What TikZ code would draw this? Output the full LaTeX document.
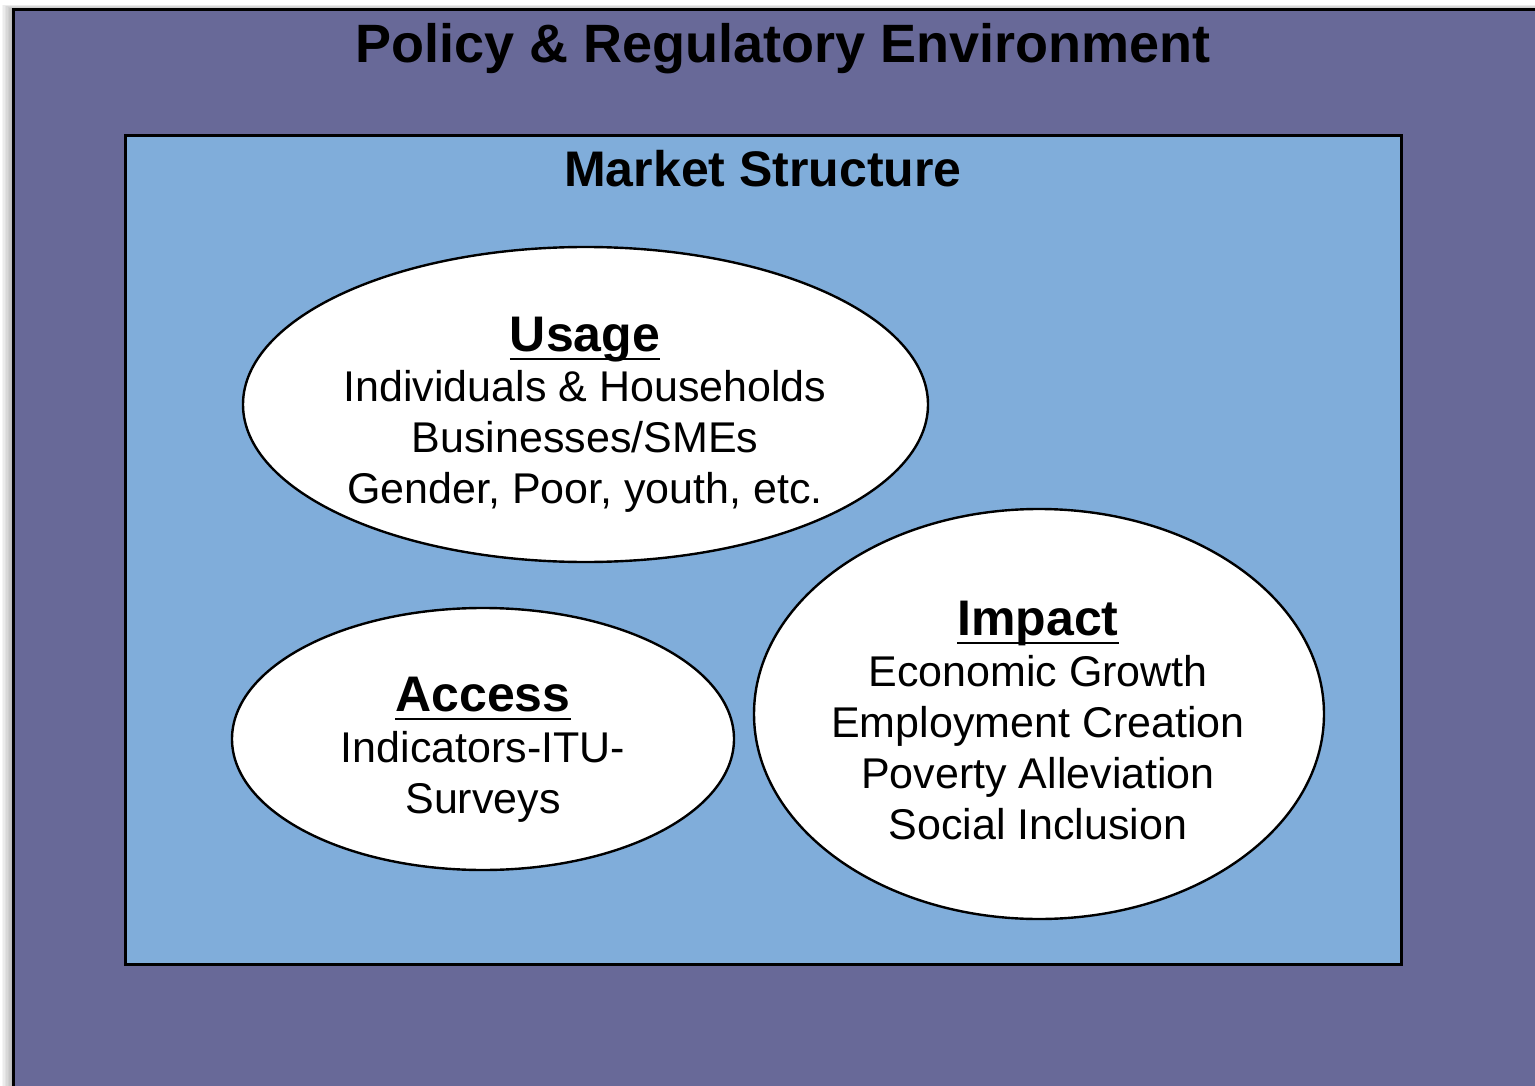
\documentclass[tikz,border=0pt]{standalone}
\usepackage{fontspec}
\setmainfont{Liberation Sans}
\usetikzlibrary{shapes.geometric}
\definecolor{policy}{RGB}{104,105,152}
\definecolor{market}{RGB}{128,173,218}
\begin{document}
\begin{tikzpicture}[x=1pt,y=-1pt,
  ell/.style={draw=black, line width=2.4pt, fill=white, ellipse, inner sep=0pt},
  txt/.style={anchor=base, inner sep=0pt, font=\fontsize{43}{51}\selectfont},
  head/.style={anchor=base, inner sep=0pt, font=\fontsize{50}{60}\selectfont\bfseries},
  uline/.style={line width=2.6pt}]
\useasboundingbox (0,0) rectangle (1535,1086);
\fill[white] (0,0) rectangle (1535,1086);
% soft shadow
\foreach \i in {1,...,8}{
  \fill[black, opacity=0.04] (13.5-1.5*\i,9.5-0.6*\i) rectangle (1535,1086);
}
% outer environment
\fill[policy] (13.5,9.5) rectangle (1540,1092);
\draw[line width=3pt] (1540,9.5) -- (13.5,9.5) -- (13.5,1092);
\node[anchor=base, inner sep=0pt, font=\fontsize{54}{60}\selectfont\bfseries] (title) at (783,63) {Policy \& Regulatory Environment};
% market structure
\draw[line width=3pt, fill=market] (125.5,135.5) rectangle (1401.5,964.5);
\node[anchor=base, inner sep=0pt, font=\fontsize{50}{60}\selectfont\bfseries] (market) at (763,187) {Market Structure};
% ellipses
\node[ell, minimum width=685pt, minimum height=315pt] (usage) at (585.5,404.5) {};
\node[ell, minimum width=502pt, minimum height=262pt] (access) at (483,739) {};
\node[ell, minimum width=570pt, minimum height=410pt] (impact) at (1039,714) {};
% usage text
\node[head] (u0) at (585,351) {Usage};
\draw[uline] ([yshift=-8pt]u0.base west) -- ([yshift=-8pt]u0.base east);
\node[txt] (u1) at (585,401) {Individuals \& Households};
\node[txt] (u2) at (585,452) {Businesses/SMEs};
\node[txt] (u3) at (585,503) {Gender, Poor, youth, etc.};
% access text
\node[head] (a0) at (483,711) {Access};
\draw[uline] ([yshift=-8pt]a0.base west) -- ([yshift=-8pt]a0.base east);
\node[txt] (a1) at (483,762) {Indicators-ITU-};
\node[txt] (a2) at (483,813) {Surveys};
% impact text
\node[head] (i0) at (1038,635) {Impact};
\draw[uline] ([yshift=-8pt]i0.base west) -- ([yshift=-8pt]i0.base east);
\node[txt] (i1) at (1038,686) {Economic Growth};
\node[txt] (i2) at (1038,737) {Employment Creation};
\node[txt] (i3) at (1038,788) {Poverty Alleviation};
\node[txt] (i4) at (1038,839) {Social Inclusion};
\end{tikzpicture}
\end{document}
